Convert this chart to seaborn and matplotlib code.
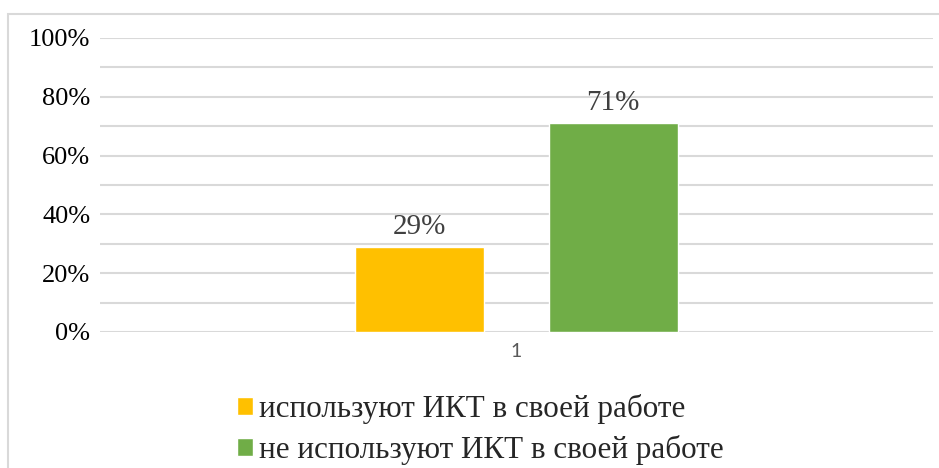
import numpy as np
import pandas as pd
import matplotlib
matplotlib.use("Agg")
import matplotlib.pyplot as plt
import seaborn as sns
from matplotlib.patches import Rectangle
from matplotlib.ticker import MultipleLocator, PercentFormatter

# data
categories = ["1"]
series = ["используют ИКТ в своей работе", "не используют ИКТ в своей работе"]
values = [0.29, 0.71]
colors = ["#FFC000", "#70AD47"]

df = pd.DataFrame({"cat": categories * len(series), "series": series, "value": values})

sns.set_style("white")
plt.rcParams['font.family'] = ['Liberation Serif', 'DejaVu Serif']

W, H = 939, 468
fig = plt.figure(figsize=(W / 100, H / 100), dpi=100)
ax = fig.add_axes([100 / W, (H - 332) / H, 833 / W, (332 - 38) / H])

# outer chart frame
fig.patches.append(Rectangle((8 / W, -0.1), 1.1, (H - 14) / H + 0.1,
                             transform=fig.transFigure, fill=False,
                             edgecolor="#d9d9d9", lw=1.5, zorder=0))

sns.barplot(data=df, x="cat", y="value", hue="series", palette=colors,
            width=0.464, gap=0.332, saturation=1, ax=ax, zorder=3)

for cont in ax.containers:
    ax.bar_label(cont, labels=[f"{v:.0%}" for v in cont.datavalues],
                 padding=5, fontsize=21, color="#404040")

ax.set_xlim(-0.5, 0.5)
ax.set_ylim(0, 1)
ax.yaxis.set_major_locator(MultipleLocator(0.2))
ax.yaxis.set_minor_locator(MultipleLocator(0.1))
ax.yaxis.set_major_formatter(PercentFormatter(1.0, decimals=0))
ax.grid(axis="y", which="both", color="#d9d9d9", lw=1.5, zorder=0)
ax.set_axisbelow(True)
ax.tick_params(axis="y", which="both", length=0, pad=7, labelsize=19, labelcolor="black")
ax.tick_params(axis="x", length=0, pad=8, labelsize=14, labelcolor="#595959")
for lab in ax.get_xticklabels():
    lab.set_family("Lato")
for s in ax.spines.values():
    s.set_visible(False)
ax.set_xlabel("")
ax.set_ylabel("")

handles, labels = ax.get_legend_handles_labels()
ax.legend_.remove()
fig.legend(handles, labels, loc="upper left", bbox_to_anchor=(237 / W, (H - 394) / H),
           frameon=False, fontsize=22.4, handlelength=0.5, handleheight=0.5,
           handletextpad=0.2, borderpad=0, borderaxespad=0, labelspacing=0.35)

fig.savefig("out.png", dpi=100)
